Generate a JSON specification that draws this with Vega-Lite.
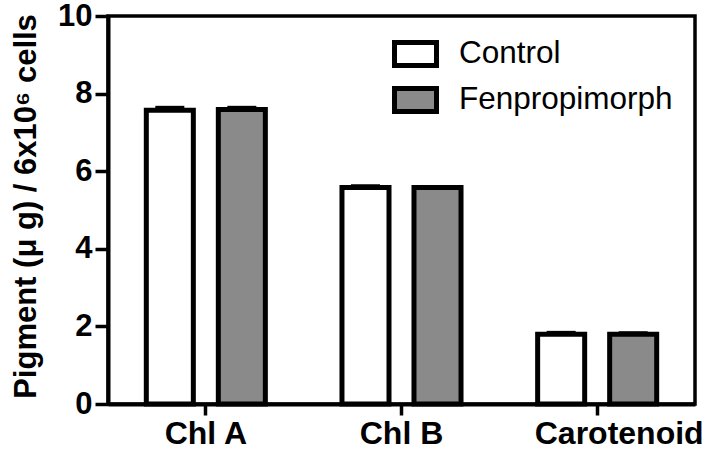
{
  "$schema": "https://vega.github.io/schema/vega-lite/v6.json",
  "width": 587,
  "height": 388,
  "autosize": {"type": "none"},
  "padding": {"left": 108, "top": 16, "right": 14, "bottom": 47},
  "background": "white",
  "config": {
    "font": "Liberation Sans",
    "view": {"stroke": "black", "strokeWidth": 3.5},
    "axis": {
      "domainColor": "black", "domainWidth": 4,
      "tickColor": "black", "tickWidth": 3.5,
      "labelColor": "black", "titleColor": "black",
      "grid": false,
      "labelFont": "Liberation Sans", "labelFontWeight": "bold", "labelFontSize": 32,
      "titleFont": "Liberation Sans", "titleFontWeight": "bold", "titleFontSize": 31
    },
    "legend": {
      "orient": "none",
      "legendX": 284,
      "legendY": 14.5,
      "padding": 0,
      "symbolType": "M-1,-0.55H1V0.55H-1Z",
      "symbolSize": 1764,
      "symbolStrokeWidth": 5,
      "symbolStrokeColor": "black",
      "symbolOpacity": 1,
      "labelFont": "Liberation Sans",
      "labelFontSize": 31.5,
      "labelColor": "black",
      "labelOffset": 20,
      "labelLimit": 400,
      "rowPadding": 0
    }
  },
  "data": {
    "values": [
      {"pigment": "Chl A", "treatment": "Control", "value": 7.57, "upper": 7.64},
      {"pigment": "Chl A", "treatment": "Fenpropimorph", "value": 7.59, "upper": 7.64},
      {"pigment": "Chl B", "treatment": "Control", "value": 5.58, "upper": 5.62},
      {"pigment": "Chl B", "treatment": "Fenpropimorph", "value": 5.58, "upper": 5.60},
      {"pigment": "Carotenoid", "treatment": "Control", "value": 1.80, "upper": 1.84},
      {"pigment": "Carotenoid", "treatment": "Fenpropimorph", "value": 1.80, "upper": 1.83}
    ]
  },
  "encoding": {
    "x": {
      "field": "pigment", "type": "nominal",
      "sort": ["Chl A", "Chl B", "Carotenoid"],
      "scale": {"paddingInner": 0, "paddingOuter": 0},
      "axis": {
        "title": null, "labelAngle": 0, "tickSize": 11, "labelPadding": 3,
        "labelOffset": {"condition": {"test": "datum.value === 'Carotenoid'", "value": 22}, "value": 0}
      }
    },
    "xOffset": {
      "field": "treatment", "type": "nominal",
      "sort": ["Control", "Fenpropimorph"],
      "scale": {"paddingInner": 0.347, "paddingOuter": 0.532}
    }
  },
  "layer": [
    {
      "mark": {"type": "bar", "stroke": "black", "strokeWidth": 5, "opacity": 1},
      "encoding": {
        "y": {
          "field": "value", "type": "quantitative",
          "scale": {"domain": [0, 10], "nice": false},
          "axis": {
            "title": "Pigment (μ g) / 6x10⁶ cells",
            "values": [0, 2, 4, 6, 8, 10],
            "tickSize": 13, "labelPadding": 3, "labelFontSize": 31,
            "titleAngle": -90, "titleX": -73, "titleY": 190,
            "titleBaseline": "alphabetic", "titleAlign": "center"
          }
        },
        "fill": {
          "field": "treatment", "type": "nominal",
          "sort": ["Control", "Fenpropimorph"],
          "scale": {"domain": ["Control", "Fenpropimorph"], "range": ["white", "#8a8a8a"]},
          "legend": {"title": null}
        }
      }
    },
    {
      "mark": {"type": "tick", "color": "black", "size": 29, "thickness": 3.5, "opacity": 1},
      "encoding": {
        "y": {
          "field": "upper", "type": "quantitative",
          "axis": {
            "title": "Pigment (μ g) / 6x10⁶ cells",
            "values": [0, 2, 4, 6, 8, 10],
            "tickSize": 13, "labelPadding": 3, "labelFontSize": 31,
            "titleAngle": -90, "titleX": -73, "titleY": 190,
            "titleBaseline": "alphabetic", "titleAlign": "center"
          }
        }
      }
    }
  ]
}
